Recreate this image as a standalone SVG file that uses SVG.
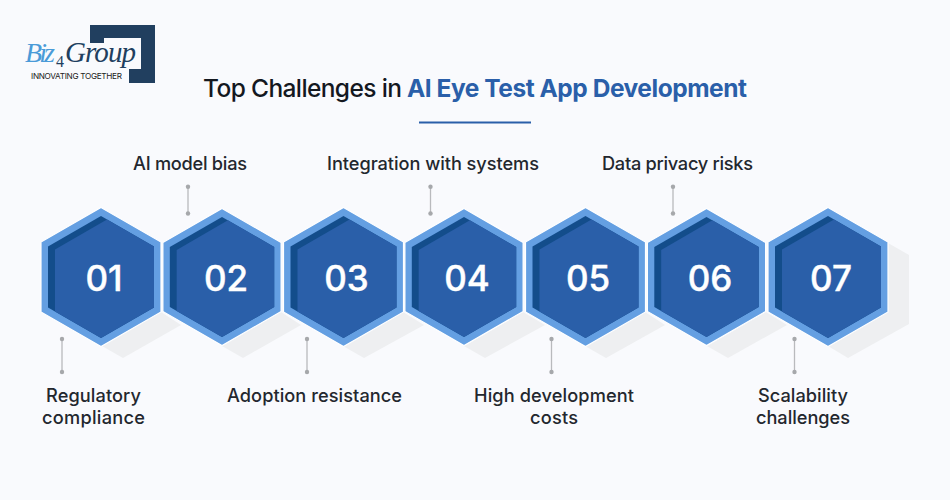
<svg xmlns="http://www.w3.org/2000/svg" width="950" height="500" viewBox="0 0 950 500">
<defs>
<style>
text{font-family:"Inter","Liberation Sans",sans-serif}
.lbl{font-size:18.2px;fill:#23272e;text-anchor:middle;font-weight:500}
.num{font-size:35px;font-weight:500;fill:#fff;stroke:#fff;stroke-width:.4;text-anchor:middle}
.ttl{font-size:24.5px;font-weight:500;fill:#14181f}
.c{stroke:#b9babd;stroke-width:1.3;fill:none}
.d{fill:#a6a8ab}
</style>
<g id="hex">
<polygon points="0,-69.5 60,-35 60,35 0,69.5 -60,35 -60,-35" fill="#649fe2" stroke="#fff" stroke-width="1.2"/>
<polygon points="0,-61 53,-30.500 53,30.500 0,61 -53,30.500 -53,-30.500" fill="#134d8b"/>
<polygon points="6,-57.500 53,-30.500 53,30.500 0,61 -46,34.500 -46,-27.500" fill="#2a5fa9"/>
</g>
</defs>
<rect width="950" height="500" fill="#f9fafd"/>
<g id="shadows" fill="#eeeff1">
<polygon points="102,346 123,358 181,325 161,312"/>
<polygon points="222,346 243,358 301,325 281,312"/>
<polygon points="343,346 364,358 424,325 403,312"/>
<polygon points="464,346 485,358 545,325 523,312"/>
<polygon points="585,346 606,358 665,325 645,312"/>
<polygon points="707,346 728,358 787,325 766,312"/>
<polygon points="828,346 848,358 909,324 909,255 888,243 888,312"/>
</g>
<g id="logo">
<path d="M90,25H155V83H129V69H141V38H104V43H90Z" fill="#213f5f"/>
<text x="25" y="62" font-size="28" font-style="italic" fill="#4a9bd8" style="font-family:'Liberation Serif',serif" textLength="30">Biz</text>
<text x="56" y="67" font-size="16" fill="#213f5f" style="font-family:'Liberation Serif',serif">4</text>
<text x="65" y="62" font-size="29" font-style="italic" fill="#213f5f" style="font-family:'Liberation Serif',serif" textLength="71">Group</text>
<text x="31" y="79" font-size="8.200" fill="#222" textLength="91">INNOVATING TOGETHER</text>
</g>
<g id="title">
<text x="203" y="97" class="ttl" textLength="199">Top Challenges in</text>
<text x="407" y="97" class="ttl" style="font-weight:700;fill:#2a5fa9" textLength="340">AI Eye Test App Development</text>
<rect x="419" y="121.500" width="112" height="2" fill="#2a5fa9"/>
</g>
<g id="connectors">
<path class="c" d="M62 339V372"/><circle class="d" cx="62" cy="339" r="2.200"/><circle class="d" cx="62" cy="372" r="2.200"/>
<path class="c" d="M188 187V213"/><circle class="d" cx="188" cy="186.800" r="2.200"/><circle class="d" cx="188" cy="213.500" r="2.200"/>
<path class="c" d="M307 339V372"/><circle class="d" cx="307" cy="339" r="2.200"/><circle class="d" cx="307" cy="372" r="2.200"/>
<path class="c" d="M430.500 187V213"/><circle class="d" cx="430.500" cy="186.800" r="2.200"/><circle class="d" cx="430.500" cy="213.500" r="2.200"/>
<path class="c" d="M551.500 339V372"/><circle class="d" cx="551.500" cy="339" r="2.200"/><circle class="d" cx="551.500" cy="372" r="2.200"/>
<path class="c" d="M673 187V213"/><circle class="d" cx="673" cy="186.800" r="2.200"/><circle class="d" cx="673" cy="213.500" r="2.200"/>
<path class="c" d="M794.500 339V372"/><circle class="d" cx="794.500" cy="339" r="2.200"/><circle class="d" cx="794.500" cy="372" r="2.200"/>
</g>
<g id="n1"><use href="#hex" transform="translate(101 277)"/><text class="num" x="104" y="291">01</text></g>
<g id="n2"><use href="#hex" transform="translate(222 277) scale(.985)"/><text class="num" x="226" y="291">02</text></g>
<g id="n3"><use href="#hex" transform="translate(343.500 277)"/><text class="num" x="346.500" y="291">03</text></g>
<g id="n4"><use href="#hex" transform="translate(464 277) scale(.985)"/><text class="num" x="467" y="291">04</text></g>
<g id="n5"><use href="#hex" transform="translate(585.500 277)"/><text class="num" x="588" y="291">05</text></g>
<g id="n6"><use href="#hex" transform="translate(706.500 277) scale(.985)"/><text class="num" x="710" y="291">06</text></g>
<g id="n7"><use href="#hex" transform="translate(828 277)"/><text class="num" x="831" y="291">07</text></g>
<g id="labels">
<text class="lbl" x="93.500" y="402" textLength="95">Regulatory</text><text class="lbl" x="93.500" y="424" textLength="103">compliance</text>
<text class="lbl" x="190" y="170" textLength="114">AI model bias</text>
<text class="lbl" x="314.500" y="402" textLength="175">Adoption resistance</text>
<text class="lbl" x="433" y="170" textLength="212">Integration with systems</text>
<text class="lbl" x="554" y="402" textLength="160">High development</text><text class="lbl" x="554" y="424" textLength="48">costs</text>
<text class="lbl" x="677.500" y="170" textLength="151">Data privacy risks</text>
<text class="lbl" x="803" y="402" textLength="90">Scalability</text><text class="lbl" x="803" y="424" textLength="94">challenges</text>
</g>
</svg>
